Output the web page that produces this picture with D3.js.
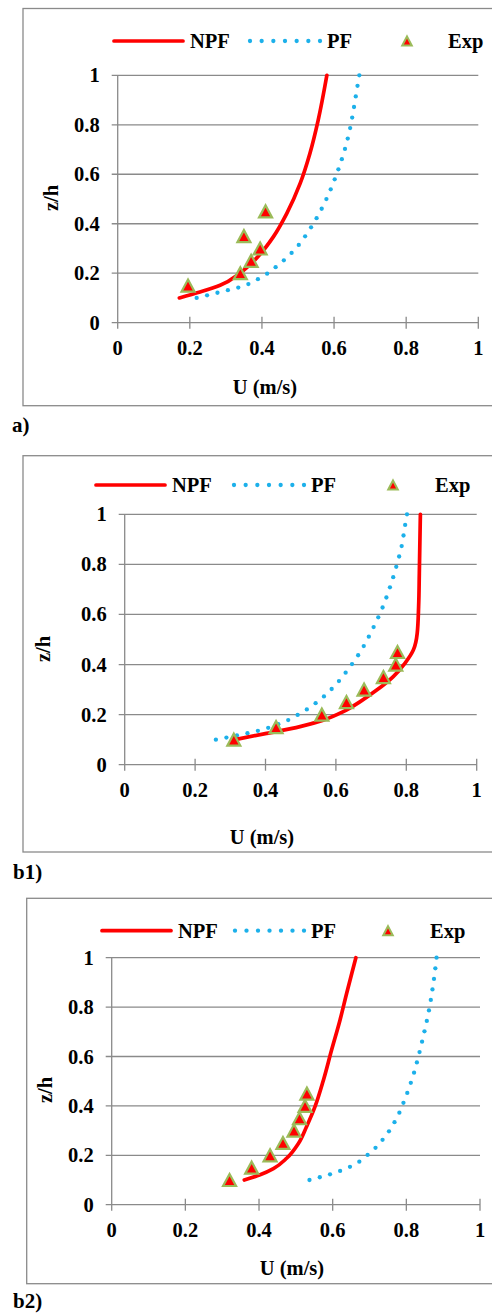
<!DOCTYPE html>
<html>
<head>
<meta charset="utf-8">
<script src="https://cdn.jsdelivr.net/npm/d3@7"></script>
<style>
  html, body { margin: 0; padding: 0; background: #fff; }
  svg { display: block; }
</style>
</head>
<body>
<svg id="chart" width="492" height="1313"></svg>
<script>
// ---------- DATA ----------
const seriesNames = ["NPF", "PF", "Exp"];
const tickValues = [0, 0.2, 0.4, 0.6, 0.8, 1];
const tickLabels = ["0", "0.2", "0.4", "0.6", "0.8", "1"];
const xTitle = "U (m/s)";
const yTitle = "z/h";
const panelLabels = ["a)", "b1)", "b2)"];

// Panel a) : [U, z/h]
const a_NPF = [[0.171,0.1],[0.228,0.124],[0.284,0.151],[0.339,0.2],[0.385,0.261],[0.432,0.348],[0.469,0.442],[0.506,0.563],[0.533,0.684],[0.556,0.819],[0.580,1.0]];
const a_PF = [[0.219,0.1],[0.279,0.122],[0.339,0.144],[0.395,0.181],[0.445,0.233],[0.490,0.294],[0.528,0.367],[0.559,0.442],[0.586,0.523],[0.609,0.608],[0.628,0.691],[0.644,0.782],[0.655,0.869],[0.665,0.957],[0.670,1.0]];
const a_ExpU = [0.195, 0.34, 0.37, 0.395, 0.35, 0.41];
const a_ExpZ = [0.15, 0.2, 0.25, 0.3, 0.35, 0.45];

// Panel b1)
const b1_NPF = [[0.313,0.1],[0.403,0.125],[0.498,0.152],[0.564,0.178],[0.621,0.212],[0.669,0.252],[0.716,0.298],[0.763,0.352],[0.796,0.405],[0.820,0.458],[0.831,0.525],[0.835,0.631],[0.837,0.764],[0.840,1.0]];
const b1_PF = [[0.259,0.1],[0.320,0.117],[0.383,0.137],[0.443,0.165],[0.499,0.205],[0.552,0.256],[0.598,0.317],[0.637,0.385],[0.673,0.459],[0.703,0.538],[0.730,0.619],[0.752,0.702],[0.771,0.788],[0.787,0.874],[0.797,0.960],[0.802,1.0]];
const b1_ExpU = [0.31, 0.43, 0.56, 0.63, 0.68, 0.735, 0.77, 0.775];
const b1_ExpZ = [0.1, 0.15, 0.2, 0.25, 0.3, 0.35, 0.4, 0.45];

// Panel b2)
const b2_NPF = [[0.360,0.1],[0.403,0.121],[0.439,0.146],[0.475,0.188],[0.507,0.248],[0.529,0.316],[0.552,0.397],[0.575,0.505],[0.597,0.626],[0.620,0.748],[0.638,0.856],[0.652,0.937],[0.663,1.0]];
const b2_PF = [[0.537,0.1],[0.595,0.124],[0.652,0.157],[0.700,0.208],[0.742,0.275],[0.774,0.351],[0.798,0.435],[0.818,0.520],[0.834,0.607],[0.848,0.694],[0.861,0.783],[0.871,0.872],[0.879,0.960],[0.882,1.0]];
const b2_ExpU = [0.32, 0.38, 0.43, 0.465, 0.495, 0.51, 0.525, 0.53];
const b2_ExpZ = [0.1, 0.15, 0.2, 0.25, 0.3, 0.35, 0.4, 0.45];

// ---------- LAYOUT ----------
const panels = [
  { label: panelLabels[0], npf: a_NPF, pf: a_PF, expU: a_ExpU, expZ: a_ExpZ,
    box: {x: 23, y: 8.5, b: 405.7}, px0: 117.7, px1: 478.3, pyTop: 75.3, pyBot: 322.7,
    leg: {y: 41, l0: 114, l1: 183, t1: 190, d0: 250, d1: 320, t2: 327, tri: 407, t3: 448},
    yl: [51, 198], xl: [265, 387], lab: [12, 432] },
  { label: panelLabels[1], npf: b1_NPF, pf: b1_PF, expU: b1_ExpU, expZ: b1_ExpZ,
    box: {x: 23, y: 455.7, b: 852}, px0: 124.7, px1: 476.7, pyTop: 514.3, pyBot: 764.7,
    leg: {y: 485, l0: 96, l1: 165, t1: 172, d0: 234, d1: 304, t2: 311, tri: 393, t3: 435},
    yl: [43, 649], xl: [262, 837], lab: [13, 879] },
  { label: panelLabels[2], npf: b2_NPF, pf: b2_PF, expU: b2_ExpU, expZ: b2_ExpZ,
    box: {x: 26.7, y: 898.3, b: 1283.7}, px0: 111.7, px1: 480, pyTop: 957.7, pyBot: 1204.7,
    leg: {y: 930.7, l0: 102, l1: 171, t1: 178, d0: 235, d1: 304, t2: 311, tri: 388, t3: 430},
    yl: [45, 1090], xl: [292, 1268], lab: [13, 1308] }
];

const FONT = "'Liberation Serif', 'Times New Roman', Tinos, 'DejaVu Serif', serif";
const GRID = "#8a8a8a";
const RED = "#ff0000";
const BLUE = "#1cb0ea";
const TRI_FILL = "#ff0000";
const TRI_STROKE = "#9bbb59";
const FS = 20.5;
const DOT_R = 2.15;

const svg = d3.select("#chart")
  .attr("font-family", FONT).attr("font-weight", "bold");

function triPath(w, h) {
  return `M0,${-h/2}L${w/2},${h/2}L${-w/2},${h/2}Z`;
}

function txt(sel) {
  return sel.attr("font-family", FONT).attr("font-weight", "bold").attr("fill", "#000");
}

panels.forEach(p => {
  const g = svg.append("g");
  const x = d3.scaleLinear().domain([0, 1]).range([p.px0, p.px1]);
  const y = d3.scaleLinear().domain([0, 1]).range([p.pyBot, p.pyTop]);

  // outer border (extends past the right edge)
  g.append("rect").attr("x", p.box.x).attr("y", p.box.y)
    .attr("width", 520).attr("height", p.box.b - p.box.y)
    .attr("fill", "none").attr("stroke", GRID).attr("stroke-width", 1.3);

  // horizontal grid lines + y ticks
  g.append("g").selectAll("line").data(tickValues).join("line")
    .attr("x1", p.px0 - 6).attr("x2", p.px1)
    .attr("y1", d => y(d)).attr("y2", d => y(d))
    .attr("stroke", GRID).attr("stroke-width", 1.3);

  // y axis line
  g.append("line").attr("x1", p.px0).attr("x2", p.px0)
    .attr("y1", y(1)).attr("y2", y(0) + 6)
    .attr("stroke", GRID).attr("stroke-width", 1.3);

  // x ticks
  g.append("g").selectAll("line").data(tickValues.slice(1)).join("line")
    .attr("x1", d => x(d)).attr("x2", d => x(d))
    .attr("y1", y(0) - 6).attr("y2", y(0) + 6)
    .attr("stroke", GRID).attr("stroke-width", 1.3);

  // y tick labels
  txt(g.append("g").selectAll("text").data(tickValues).join("text"))
    .attr("x", p.px0 - 18).attr("y", d => y(d) + 7)
    .attr("text-anchor", "end").attr("font-size", FS)
    .text((d, i) => tickLabels[i]);

  // x tick labels
  txt(g.append("g").selectAll("text").data(tickValues).join("text"))
    .attr("x", d => x(d)).attr("y", y(0) + 32.5)
    .attr("text-anchor", "middle").attr("font-size", FS)
    .text((d, i) => tickLabels[i]);

  // axis titles
  txt(g.append("text")).attr("transform", `translate(${p.yl[0]},${p.yl[1]}) rotate(-90)`)
    .attr("text-anchor", "middle").attr("dy", "0.35em").attr("font-size", FS)
    .text(yTitle);
  txt(g.append("text")).attr("x", p.xl[0]).attr("y", p.xl[1] + 7)
    .attr("text-anchor", "middle").attr("font-size", FS)
    .text(xTitle);

  // panel label
  txt(g.append("text")).attr("x", p.lab[0]).attr("y", p.lab[1])
    .attr("font-size", 21).text(p.label);

  const line = d3.line().x(d => x(d[0])).y(d => y(d[1])).curve(d3.curveMonotoneY);

  // PF dotted: invisible guide path, dots placed evenly along it
  const pfPath = g.append("path").datum(p.pf).attr("d", line)
    .attr("fill", "none").attr("stroke", "none");
  const node = pfPath.node();
  const len = node.getTotalLength();
  const n = Math.round(len / 10.8);
  const dots = d3.range(n + 1).map(i => node.getPointAtLength(i * len / n));
  g.append("g").selectAll("circle").data(dots).join("circle")
    .attr("cx", d => d.x).attr("cy", d => d.y).attr("r", DOT_R).attr("fill", BLUE);

  // NPF solid
  g.append("path").datum(p.npf).attr("d", line)
    .attr("fill", "none").attr("stroke", RED).attr("stroke-width", 3.7)
    .attr("stroke-linecap", "round");

  // Exp triangles
  const exp = p.expU.map((u, i) => [u, p.expZ[i]]);
  g.append("g").selectAll("path").data(exp).join("path")
    .attr("d", triPath(13, 12))
    .attr("transform", d => `translate(${x(d[0])},${y(d[1])})`)
    .attr("fill", TRI_FILL).attr("stroke", TRI_STROKE).attr("stroke-width", 2.2)
    .attr("stroke-linejoin", "miter");

  // legend
  const L = p.leg;
  g.append("line").attr("x1", L.l0).attr("x2", L.l1).attr("y1", L.y).attr("y2", L.y)
    .attr("stroke", RED).attr("stroke-width", 3.7).attr("stroke-linecap", "round");
  txt(g.append("text")).attr("x", L.t1).attr("y", L.y + 7).attr("font-size", FS).text(seriesNames[0]);
  g.append("g").selectAll("circle").data(d3.range(7)).join("circle")
    .attr("cx", i => L.d0 + i * (L.d1 - L.d0) / 6).attr("cy", L.y)
    .attr("r", DOT_R).attr("fill", BLUE);
  txt(g.append("text")).attr("x", L.t2).attr("y", L.y + 7).attr("font-size", FS).text(seriesNames[1]);
  g.append("path").attr("d", triPath(9.5, 9))
    .attr("transform", `translate(${L.tri},${L.y})`)
    .attr("fill", TRI_FILL).attr("stroke", TRI_STROKE).attr("stroke-width", 2);
  txt(g.append("text")).attr("x", L.t3).attr("y", L.y + 7).attr("font-size", FS).text(seriesNames[2]);
});
</script>
</body>
</html>
